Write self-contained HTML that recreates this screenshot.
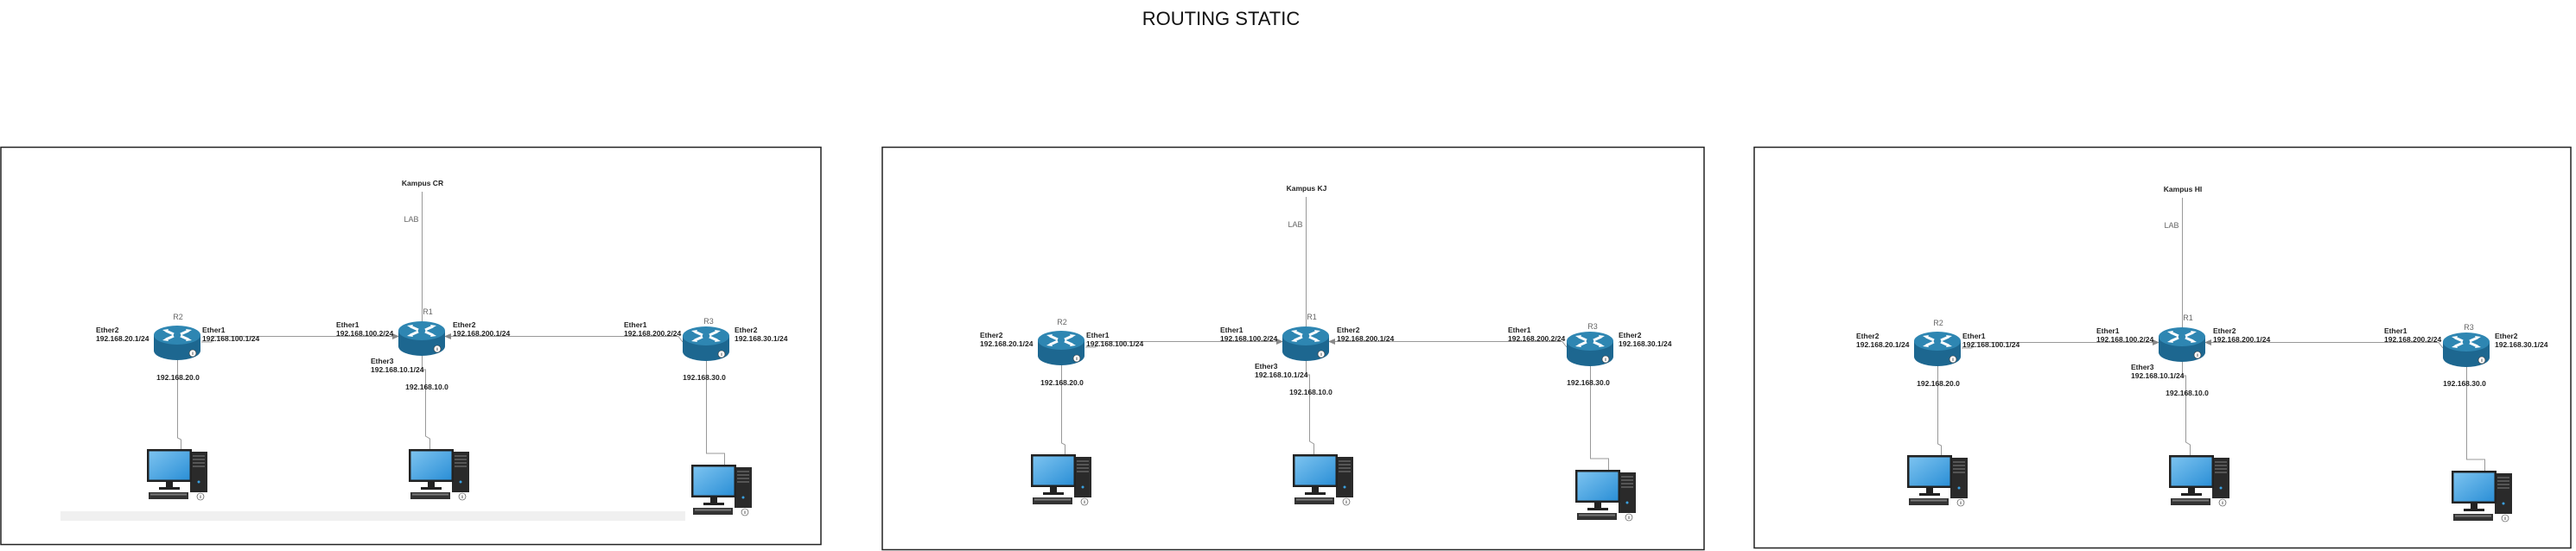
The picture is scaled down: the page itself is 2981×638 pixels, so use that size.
<!DOCTYPE html>
<html><head><meta charset="utf-8"><style>
html,body{margin:0;padding:0;background:#fff;}
svg{display:block;}
text{font-family:"Liberation Sans",sans-serif;}
.l{font-size:8.5px;font-weight:bold;fill:#222;}
.g{font-size:9px;fill:#666;}
</style></head><body>
<svg width="2981" height="638" viewBox="0 0 2981 638" xmlns="http://www.w3.org/2000/svg">
<defs>
<g id="router">
  <rect x="-27" y="-6" width="54" height="18" fill="#1d6790"/>
  <ellipse cx="0" cy="12" rx="27" ry="11" fill="#1d6790"/>
  <ellipse cx="0" cy="-6" rx="27" ry="11" fill="#2e86b2"/>
  <g stroke="#fff" stroke-width="3" fill="none">
    <line x1="-13" y1="-11" x2="-4" y2="-7"/><line x1="13" y1="-1" x2="4" y2="-5"/>
    <line x1="13" y1="-11" x2="4" y2="-7"/><line x1="-13" y1="-1" x2="-4" y2="-5"/>
  </g>
  <g fill="#fff">
    <polygon points="-17,-12 -10,-13 -12,-9"/><polygon points="17,0 10,1 12,-3"/>
    <polygon points="17,-12 10,-13 12,-9"/><polygon points="-17,0 -10,1 -12,-3"/>
  </g>
  <circle cx="18" cy="15" r="4" fill="#fff" stroke="#333" stroke-width="0.6"/>
  <line x1="18" y1="13.5" x2="18" y2="17" stroke="#333" stroke-width="0.8"/>
</g>
<linearGradient id="scr" x1="0" y1="0" x2="1" y2="1"><stop offset="0" stop-color="#7cc3f0"/><stop offset="1" stop-color="#2b8fd6"/></linearGradient>
<g id="pc">
  <rect x="50" y="3" width="20" height="47" fill="#2a2a2a"/>
  <rect x="53" y="7" width="14" height="2" fill="#555"/><rect x="53" y="11" width="14" height="2" fill="#555"/>
  <rect x="53" y="15" width="14" height="2" fill="#555"/><rect x="53" y="19" width="14" height="2" fill="#555"/>
  <circle cx="60" cy="38" r="1.5" fill="#3aa0e0"/>
  <rect x="0" y="0" width="52" height="38" fill="#222"/>
  <rect x="2.5" y="2.5" width="47" height="33" fill="url(#scr)"/>
  <rect x="22" y="38" width="8" height="7" fill="#222"/>
  <rect x="14" y="44" width="24" height="3" fill="#222"/>
  <rect x="2" y="50" width="46" height="8" fill="#333"/>
  <rect x="4" y="51.5" width="42" height="2" fill="#777"/>
  <circle cx="62" cy="55" r="4" fill="#fff" stroke="#333" stroke-width="0.6"/>
  <line x1="62" y1="53.5" x2="62" y2="57" stroke="#333" stroke-width="0.8"/>
</g>
</defs>

<text x="1413" y="29" font-size="22" text-anchor="middle" style="font-family:'Liberation Sans',sans-serif" fill="#111">ROUTING STATIC</text>

<rect x="1" y="170.5" width="949" height="460" fill="none" stroke="#222" stroke-width="1.5"/>
<rect x="1021" y="170.5" width="951" height="466" fill="none" stroke="#222" stroke-width="1.5"/>
<rect x="2030" y="170.5" width="945" height="464" fill="none" stroke="#222" stroke-width="1.5"/>
<rect x="70" y="592" width="723" height="11" fill="#f0f0f0"/>

<g id="net">
  <g stroke="#999" stroke-width="1" fill="none">
    <line x1="488.5" y1="222" x2="488.5" y2="372"/>
    <polyline points="233,396 245,396 245,389.5 455,389.5"/>
    <polyline points="790,396 785,389.5 521,389.5"/>
    <polyline points="205.5,412 205.5,507 209.5,509 209.5,520"/>
    <polyline points="488.5,407 488.5,428 492.5,428 492.5,505 497.5,508 497.5,520"/>
    <polyline points="817.5,413 817.5,525 838.5,525 838.5,538"/>
  </g>
  <polygon points="462,389.5 454,386 454,393" fill="#888"/>
  <polygon points="514,389.5 522,386 522,393" fill="#888"/>
  <use href="#router" x="488" y="389"/>
  <use href="#router" x="205" y="394"/>
  <use href="#router" x="817" y="395"/>
  <use href="#pc" x="170" y="520"/>
  <use href="#pc" x="473" y="520"/>
  <use href="#pc" x="800" y="538"/>
  <text class="g" x="476" y="257" text-anchor="middle">LAB</text>
  <text class="g" x="495" y="364" text-anchor="middle">R1</text>
  <text class="g" x="206" y="370" text-anchor="middle">R2</text>
  <text class="g" x="820" y="375" text-anchor="middle">R3</text>
  <text class="l" x="111" y="385">Ether2</text><text class="l" x="111" y="395">192.168.20.1/24</text>
  <text class="l" x="234" y="385">Ether1</text><text class="l" x="234" y="395">192.168.100.1/24</text>
  <text class="l" x="389" y="379">Ether1</text><text class="l" x="389" y="389">192.168.100.2/24</text>
  <text class="l" x="524" y="379">Ether2</text><text class="l" x="524" y="389">192.168.200.1/24</text>
  <text class="l" x="722" y="379">Ether1</text><text class="l" x="722" y="389">192.168.200.2/24</text>
  <text class="l" x="850" y="385">Ether2</text><text class="l" x="850" y="395">192.168.30.1/24</text>
  <text class="l" x="429" y="421">Ether3</text><text class="l" x="429" y="431">192.168.10.1/24</text>
  <text class="l" x="206" y="440" text-anchor="middle">192.168.20.0</text>
  <text class="l" x="494" y="451" text-anchor="middle">192.168.10.0</text>
  <text class="l" x="815" y="440" text-anchor="middle">192.168.30.0</text>
</g>
<text class="l" x="489" y="215" text-anchor="middle">Kampus CR</text>

<use href="#net" x="1023" y="6"/>
<text class="l" x="1512" y="221" text-anchor="middle">Kampus KJ</text>

<use href="#net" x="2037" y="7"/>
<text class="l" x="2526" y="222" text-anchor="middle">Kampus HI</text>
</svg>
</body></html>
